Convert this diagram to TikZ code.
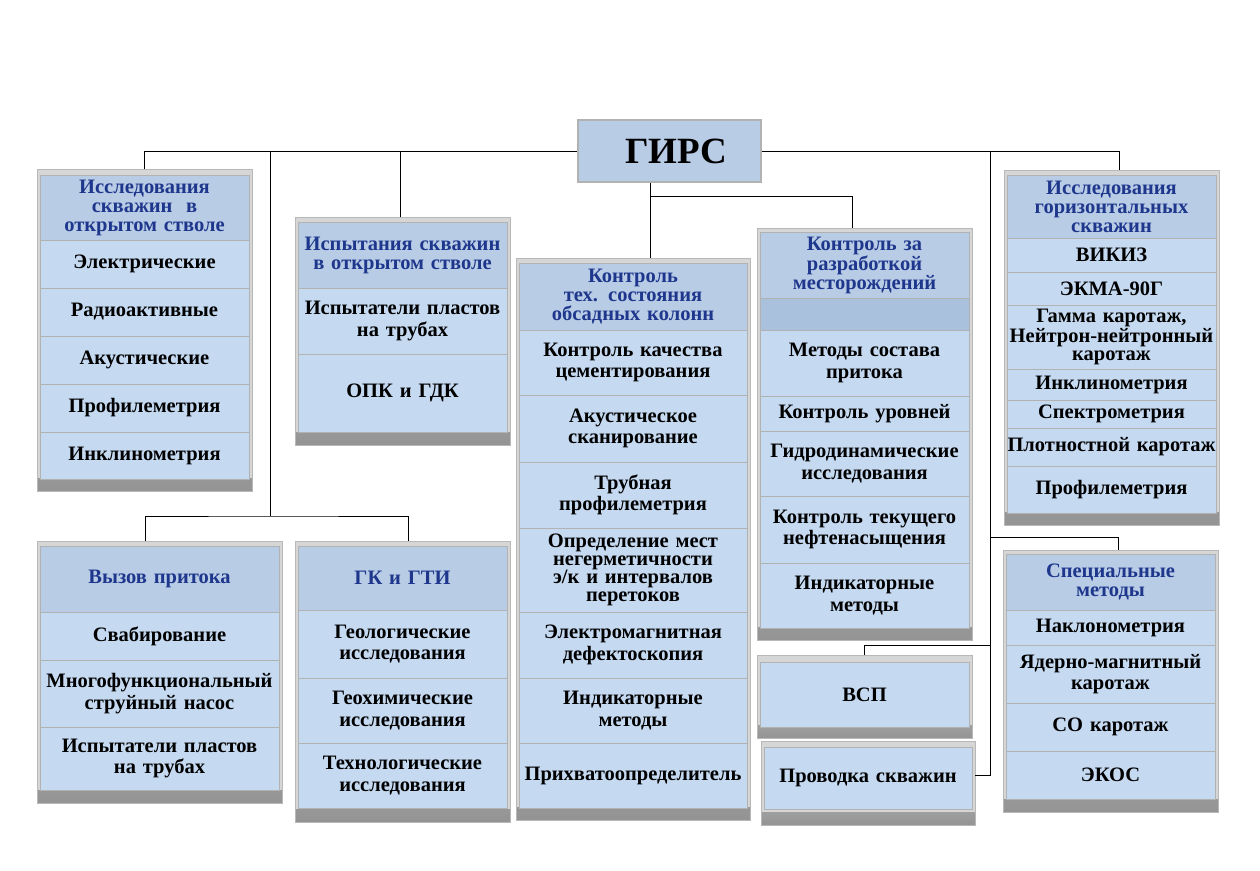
\documentclass[tikz,border=0pt]{standalone}
\usepackage{fontspec}
\setmainfont{Liberation Serif}
\usepackage{tikz}

\definecolor{rowblue}{RGB}{197,217,241}
\definecolor{headblue}{RGB}{184,204,230}
\definecolor{bandblue}{RGB}{170,193,222}
\definecolor{headtext}{RGB}{30,55,140}

\begin{document}
\begin{tikzpicture}
[
    x = 1pt, y = -1pt,
    frame/.style = {draw = black!28, fill = black!16, anchor = north west, inner sep = 0pt, outer sep = 0pt,
        path picture = {\shade[top color = black!14, bottom color = black!42]
            ([yshift = 13pt]path picture bounding box.south west) rectangle (path picture bounding box.south east);}},
    cell/.style = {draw = black!30, fill = rowblue, anchor = north west, inner xsep = 0pt, inner ysep = 1pt,
        outer sep = 0pt, align = center, text = black, font = \bfseries\fontsize{20.5}{21.5}\selectfont},
    head/.style = {cell, fill = headblue, text = headtext, font = \bfseries\fontsize{20.5}{19}\selectfont},
    tight/.style = {font = \bfseries\fontsize{20.5}{18}\selectfont},
    wd/.style = {text width = #1, minimum width = #1},
    root/.style = {draw = black!30, line width = 1.5pt, fill = headblue, minimum width = 183pt,
        minimum height = 62pt, font = \bfseries\fontsize{37}{40}\selectfont},
    conn/.style = {draw = black, line width = 0.9pt}
]
\useasboundingbox (0,0) rectangle (1260,870);
\fill[white] (0,0) rectangle (1260,870);

\node[root] (girs) at (669.5,151) {\hspace*{14pt}ГИРС};

\node[frame, minimum width = 215pt, minimum height = 322pt] (otkr) at (37,169) {};
\node[head, wd = 209pt, minimum height = 65pt] (otkr0) at (40,175) {Исследования\\скважин~ в\\открытом стволе};
\node[cell, wd = 209pt, minimum height = 48pt] (otkr1) at (otkr0.south west) {Электрические};
\node[cell, wd = 209pt, minimum height = 48pt] (otkr2) at (otkr1.south west) {Радиоактивные};
\node[cell, wd = 209pt, minimum height = 48pt] (otkr3) at (otkr2.south west) {Акустические};
\node[cell, wd = 209pt, minimum height = 48pt] (otkr4) at (otkr3.south west) {Профилеметрия};
\node[cell, wd = 209pt, minimum height = 47pt] (otkr5) at (otkr4.south west) {Инклинометрия};

\node[frame, minimum width = 215pt, minimum height = 228pt] (isp) at (295,217) {};
\node[head, wd = 209pt, minimum height = 66pt] (isp0) at (298,222) {Испытания скважин\\в открытом стволе};
\node[cell, wd = 209pt, minimum height = 66pt] (isp1) at (isp0.south west) {Испытатели пластов\\на трубах};
\node[cell, wd = 209pt, minimum height = 78pt] (isp2) at (isp1.south west) {ОПК и ГДК};

\node[frame, minimum width = 234pt, minimum height = 562pt] (obs) at (516,258) {};
\node[head, wd = 228pt, minimum height = 67pt] (obs0) at (519,263) {Контроль\\тех. состояния\\обсадных колонн};
\node[cell, wd = 228pt, minimum height = 65pt] (obs1) at (obs0.south west) {Контроль качества\\цементирования};
\node[cell, wd = 228pt, minimum height = 67pt] (obs2) at (obs1.south west) {Акустическое\\сканирование};
\node[cell, wd = 228pt, minimum height = 66pt] (obs3) at (obs2.south west) {Трубная\\профилеметрия};
\node[cell, tight, wd = 228pt, minimum height = 84pt] (obs4) at (obs3.south west) {Определение мест\\негерметичности\\э/к и интервалов\\перетоков};
\node[cell, wd = 228pt, minimum height = 66pt] (obs5) at (obs4.south west) {Электромагнитная\\дефектоскопия};
\node[cell, wd = 228pt, minimum height = 65pt] (obs6) at (obs5.south west) {Индикаторные\\методы};
\node[cell, wd = 228pt, minimum height = 65pt] (obs7) at (obs6.south west) {Прихватоопределитель};

\node[frame, minimum width = 215pt, minimum height = 412pt] (razr) at (757,228) {};
\node[head, wd = 209pt, minimum height = 66pt] (razr0) at (760,232) {Контроль за\\разработкой\\месторождений};
\node[cell, fill = bandblue, wd = 209pt, minimum height = 32pt] (razrb) at (razr0.south west) {};
\node[cell, wd = 209pt, minimum height = 66pt] (razr1) at (razrb.south west) {Методы состава\\притока};
\node[cell, wd = 209pt, minimum height = 35pt] (razr2) at (razr1.south west) {Контроль уровней};
\node[cell, wd = 209pt, minimum height = 65pt] (razr3) at (razr2.south west) {Гидродинамические\\исследования};
\node[cell, wd = 209pt, minimum height = 67pt] (razr4) at (razr3.south west) {Контроль текущего\\нефтенасыщения};
\node[cell, wd = 209pt, minimum height = 65pt] (razr5) at (razr4.south west) {Индикаторные\\методы};

\node[frame, minimum width = 215pt, minimum height = 83pt] (vsp) at (757,655) {};
\node[cell, wd = 209pt, minimum height = 65pt] (vsp1) at (760,662) {ВСП};

\node[frame, minimum width = 214pt, minimum height = 84pt] (prov) at (761,741) {};
\node[cell, wd = 208pt, minimum height = 62pt] (prov1) at (764,747) {Проводка скважин};

\node[frame, minimum width = 215pt, minimum height = 355pt] (goriz) at (1004,170) {};
\node[head, wd = 209pt, minimum height = 63pt] (goriz0) at (1007,175) {Исследования\\горизонтальных\\скважин};
\node[cell, wd = 209pt, minimum height = 34pt] (goriz1) at (goriz0.south west) {ВИКИЗ};
\node[cell, wd = 209pt, minimum height = 33pt] (goriz2) at (goriz1.south west) {ЭКМА-90Г};
\node[cell, tight, wd = 209pt, minimum height = 64pt] (goriz3) at (goriz2.south west) {Гамма каротаж,\\Нейтрон-нейтронный\\каротаж};
\node[cell, wd = 209pt, minimum height = 31pt] (goriz4) at (goriz3.south west) {Инклинометрия};
\node[cell, wd = 209pt, minimum height = 28pt] (goriz5) at (goriz4.south west) {Спектрометрия};
\node[cell, wd = 209pt, minimum height = 38pt] (goriz6) at (goriz5.south west) {Плотностной каротаж};
\node[cell, wd = 209pt, minimum height = 47pt] (goriz7) at (goriz6.south west) {Профилеметрия};

\node[frame, minimum width = 215pt, minimum height = 262pt] (spec) at (1003,550) {};
\node[head, wd = 209pt, minimum height = 56pt] (spec0) at (1006,554) {Специальные\\методы};
\node[cell, wd = 209pt, minimum height = 35pt] (spec1) at (spec0.south west) {Наклонометрия};
\node[cell, wd = 209pt, minimum height = 58pt] (spec2) at (spec1.south west) {Ядерно-магнитный\\каротаж};
\node[cell, wd = 209pt, minimum height = 48pt] (spec3) at (spec2.south west) {СО каротаж};
\node[cell, wd = 209pt, minimum height = 48pt] (spec4) at (spec3.south west) {ЭКОС};

\node[frame, minimum width = 245pt, minimum height = 262pt] (vyzov) at (37,541) {};
\node[head, wd = 239pt, minimum height = 66pt] (vyzov0) at (40,546) {Вызов притока};
\node[cell, wd = 239pt, minimum height = 48pt] (vyzov1) at (vyzov0.south west) {Свабирование};
\node[cell, wd = 239pt, minimum height = 67pt] (vyzov2) at (vyzov1.south west) {Многофункциональный\\струйный насос};
\node[cell, wd = 239pt, minimum height = 63pt] (vyzov3) at (vyzov2.south west) {Испытатели пластов\\на трубах};

\node[frame, minimum width = 215pt, minimum height = 281pt] (gk) at (295,541) {};
\node[head, wd = 209pt, minimum height = 64pt] (gk0) at (298,546) {ГК и ГТИ};
\node[cell, wd = 209pt, minimum height = 68pt] (gk1) at (gk0.south west) {Геологические\\исследования};
\node[cell, wd = 209pt, minimum height = 65pt] (gk2) at (gk1.south west) {Геохимические\\исследования};
\node[cell, wd = 209pt, minimum height = 65pt] (gk3) at (gk2.south west) {Технологические\\исследования};

\coordinate (lb) at (270,516);
\coordinate (mb) at (650,196);
\coordinate (rb) at (990,775);

\draw[conn] (otkr.north) |- (girs.west);
\draw[conn] ([xshift = -2pt]isp.north) -- ([xshift = -2pt]isp.north |- girs.west);
\draw[conn] (girs.east) -| ([xshift = 8pt]goriz.north);
\draw[conn] (lb |- girs.west) -- (lb);
\draw[conn] ([xshift = -14pt]vyzov.north) |- (lb) -| ([xshift = 6pt]gk.north);
\draw[conn] (mb |- girs.south) -- (mb |- obs.north);
\draw[conn] (mb) -| ([xshift = -12pt]razr.north);
\draw[conn] (rb |- girs.east) -- (rb) -- (rb -| prov.east);
\draw[conn] (rb |- 0,537) -| ([xshift = 8pt]spec.north);
\draw[conn] (rb |- 0,645) -| (vsp.north);
\end{tikzpicture}
\end{document}
